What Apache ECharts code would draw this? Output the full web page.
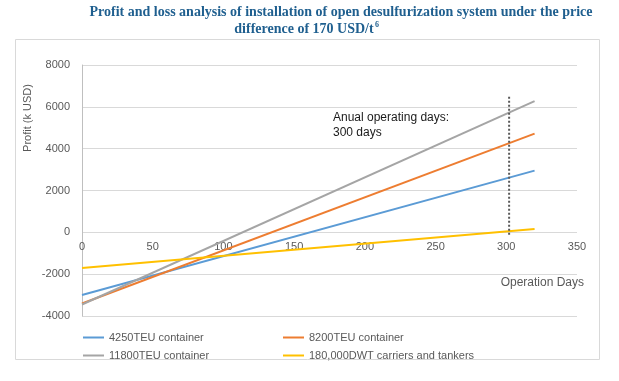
<!DOCTYPE html>
<html>
<head>
<meta charset="utf-8">
<script src="https://cdn.jsdelivr.net/npm/echarts@6/dist/echarts.min.js"></script>
<style>
html,body{margin:0;padding:0;background:#fff;}
#chart{width:619px;height:381px;}
</style>
</head>
<body>
<div id="chart"></div>
<script>
// ---- data ----
var days = [0, 320];
var seriesNames = ['4250TEU container', '8200TEU container', '11800TEU container', '180,000DWT carriers and tankers'];
var teu4250 = [-3000, 2950];
var teu8200 = [-3400, 4720];
var teu11800 = [-3450, 6270];
var dwt180000 = [-1700, 160];
var xTicks = { min: 0, max: 350, interval: 50 };
var yTicks = { min: -4000, max: 8000, interval: 2000 };
var markerDay = [302, 302];
var markerProfit = [6480, -160];
var titleLines = ['Profit and loss analysis of installation of open desulfurization system under the price', 'difference of 170 USD/t'];
var titleSup = '6';
var annotationLines = ['Anual operating days:', '300 days'];

var colors = ['#5b9bd5', '#ed7d31', '#a5a5a5', '#ffc000'];
var values = [teu4250, teu8200, teu11800, dwt180000];

function pairs(xs, ys) { return xs.map(function (x, i) { return [x, ys[i]]; }); }

var series = seriesNames.map(function (n, i) {
  return {
    name: n, type: 'line', data: pairs(days, values[i]),
    symbol: 'none', lineStyle: { width: 2, color: colors[i] }, itemStyle: { color: colors[i] },
    z: 3
  };
});
series.push({
  name: 'marker', type: 'line', data: pairs(markerDay, markerProfit),
  symbol: 'none', lineStyle: { width: 2, color: '#595959', type: [2, 2] }, z: 4, silent: true
});

var chart = echarts.init(document.getElementById('chart'));
chart.setOption({
  animation: false,
  color: colors,
  grid: { left: 82, right: 42, top: 65, bottom: 65, containLabel: false },
  xAxis: {
    type: 'value', min: xTicks.min, max: xTicks.max, interval: xTicks.interval,
    offset: -84,
    axisLine: { show: false, onZero: false },
    axisTick: { show: false },
    splitLine: { show: false },
    axisLabel: { color: '#595959', fontSize: 11, fontFamily: 'Liberation Sans, Arial, sans-serif', margin: 9 }
  },
  yAxis: {
    type: 'value', min: yTicks.min, max: yTicks.max, interval: yTicks.interval,
    axisLine: { show: true, onZero: false, lineStyle: { color: '#bfbfbf', width: 1 } },
    axisTick: { show: false },
    splitLine: { show: true, lineStyle: { color: '#d9d9d9', width: 1 } },
    axisLabel: { color: '#595959', fontSize: 11, fontFamily: 'Liberation Sans, Arial, sans-serif', margin: 12,
      formatter: function (v) { return String(v); } }
  },
  legend: [
    {
      data: [seriesNames[0], seriesNames[2]], orient: 'vertical', left: 78, top: 327,
      itemWidth: 21, itemHeight: 2, itemGap: 7, icon: 'rect',
      textStyle: { color: '#595959', fontSize: 11, fontFamily: 'Liberation Sans, Arial, sans-serif' }
    },
    {
      data: [seriesNames[1], seriesNames[3]], orient: 'vertical', left: 278, top: 327,
      itemWidth: 21, itemHeight: 2, itemGap: 7, icon: 'rect',
      textStyle: { color: '#595959', fontSize: 11, fontFamily: 'Liberation Sans, Arial, sans-serif' }
    }
  ],
  series: series,
  graphic: [
    { type: 'rect', shape: { x: 15.5, y: 39.5, width: 584, height: 320 }, style: { fill: 'none', stroke: '#d9d9d9', lineWidth: 1 }, z: -1 },
    { type: 'text', x: 341, y: 5, style: { text: titleLines[0], font: 'bold 14px "Liberation Serif", "Times New Roman", serif', fill: '#1f5f8f', textAlign: 'center' } },
    { type: 'text', x: 304, y: 22, style: { text: titleLines[1], font: 'bold 14px "Liberation Serif", "Times New Roman", serif', fill: '#1f5f8f', textAlign: 'center' } },
    { type: 'text', x: 375, y: 21, style: { text: titleSup, font: 'bold 8px "Liberation Serif", "Times New Roman", serif', fill: '#1f5f8f', textAlign: 'left' } },
    { type: 'text', x: 333, y: 110, style: { text: annotationLines.join('\n'), font: '12px "Liberation Sans", Arial, sans-serif', fill: '#1a1a1a', lineHeight: 15 } },
    { type: 'text', x: 584, y: 277, style: { text: 'Operation Days', font: '12px "Liberation Sans", Arial, sans-serif', fill: '#595959', textAlign: 'right' } },
    { type: 'text', x: 28, y: 118, rotation: Math.PI / 2, style: { text: 'Profit (k USD)', font: '11px "Liberation Sans", Arial, sans-serif', fill: '#595959', textAlign: 'center', textVerticalAlign: 'middle' } }
  ]
});
</script>
</body>
</html>
